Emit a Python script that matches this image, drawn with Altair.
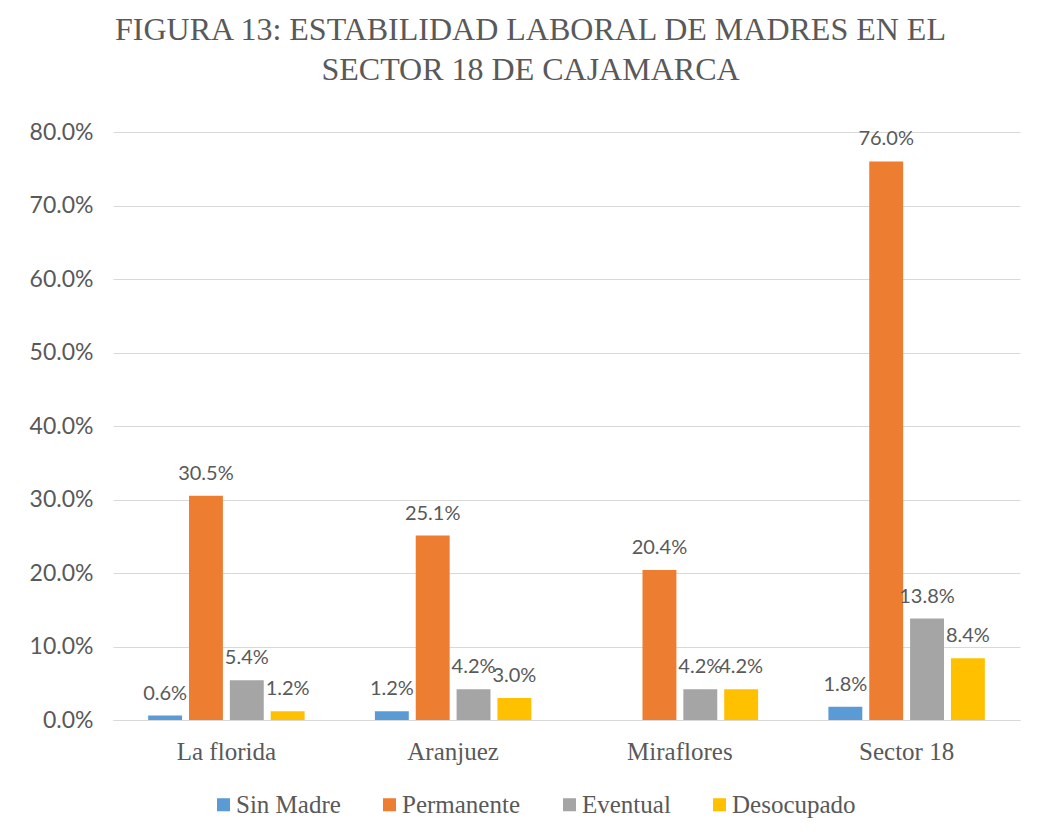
import altair as alt
import pandas as pd

categories = ["La florida", "Aranjuez", "Miraflores", "Sector 18"]
series = ["Sin Madre", "Permanente", "Eventual", "Desocupado"]
sin_madre = [0.6, 1.2, None, 1.8]
permanente = [30.5, 25.1, 20.4, 76.0]
eventual = [5.4, 4.2, 4.2, 13.8]
desocupado = [1.2, 3.0, 4.2, 8.4]
colors = ["#5B9BD5", "#ED7D31", "#A5A5A5", "#FFC000"]
y_ticks = [0, 10, 20, 30, 40, 50, 60, 70, 80]

rows = []
for s, vals in zip(series, [sin_madre, permanente, eventual, desocupado]):
    for c, v in zip(categories, vals):
        if v is not None:
            rows.append({"sector": c, "serie": s, "valor": v / 100.0,
                         "etiqueta": f"{v:.1f}%"})
df = pd.DataFrame(rows)

SERIF = "Liberation Serif"
SANS = "Lato"
GRAY = "#595959"

x = alt.X("sector:N", sort=categories, title=None,
          scale=alt.Scale(paddingInner=0.31, paddingOuter=0.155),
          axis=alt.Axis(labelAngle=0, labelFont=SERIF, labelFontSize=25,
                        labelColor=GRAY, labelPadding=19, ticks=False,
                        domainColor="#D9D9D9", domainWidth=1))
xo = alt.XOffset("serie:N", sort=series,
                 scale=alt.Scale(paddingInner=0.17, paddingOuter=0.0))

base = alt.Chart(df).encode(x=x, xOffset=xo)

bars = base.mark_bar().encode(
    y=alt.Y("valor:Q", title=None,
            scale=alt.Scale(domain=[0, 0.8], nice=False),
            axis=alt.Axis(values=[t / 100 for t in y_ticks], format=".1%",
                          labelFont=SANS, labelFontSize=23, labelColor=GRAY,
                          labelPadding=20, ticks=False, domain=False,
                          gridColor="#D9D9D9", gridWidth=1)),
    color=alt.Color("serie:N", sort=series,
                    scale=alt.Scale(domain=series, range=colors),
                    legend=alt.Legend(title=None, orient="none", direction="horizontal",
                                      legendX=98, legendY=660,
                                      symbolType="square", symbolSize=170,
                                      symbolStrokeWidth=0, labelOffset=0,
                                      labelFont=SERIF, labelFontSize=25,
                                      labelColor=GRAY, columnPadding=36,
                                      padding=0)),
)

labels = base.mark_text(font=SANS, fontSize=20, color=GRAY, dy=-16,
                        baseline="alphabetic", align="center").encode(
    y=alt.Y("valor:Q"),
    text="etiqueta:N",
)

chart = alt.layer(bars, labels).properties(
    width=907, height=588,
    title=alt.TitleParams(
        text=["FIGURA 13: ESTABILIDAD LABORAL DE MADRES EN EL",
              "SECTOR 18 DE CAJAMARCA"],
        font=SERIF, fontSize=32, fontWeight="normal", color=GRAY,
        lineHeight=40, anchor="middle", dx=-36, offset=34),
    autosize=alt.AutoSizeParams(type="none"),
    padding={"left": 105, "top": 124, "right": 10, "bottom": 100},
).configure(background="white").configure_view(stroke=None, strokeWidth=0).configure_legend(
    labelFont=SERIF, labelFontSize=25, labelColor=GRAY)

chart.save("out.html", embed_options={"renderer": "svg", "actions": False})
